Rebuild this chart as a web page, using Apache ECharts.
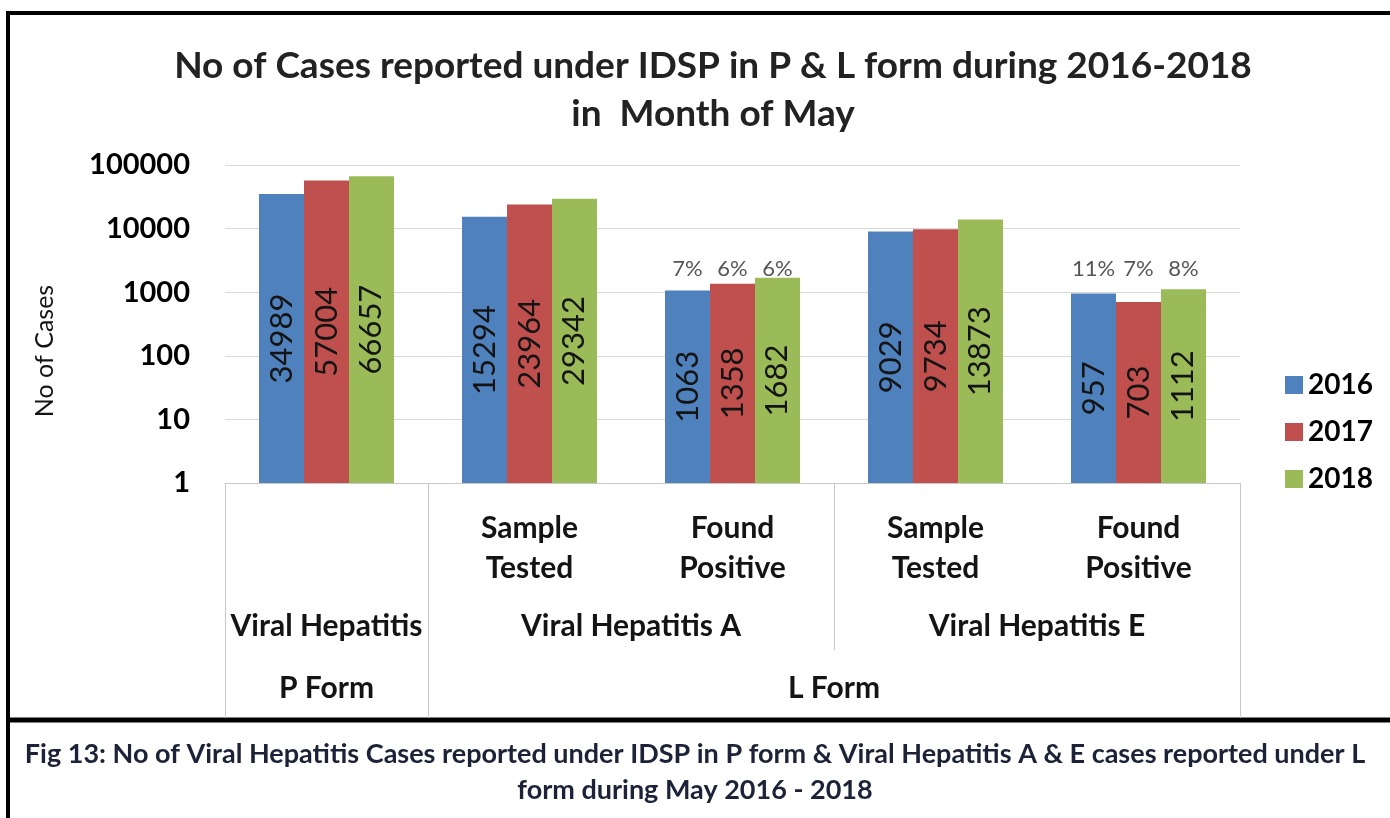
<!DOCTYPE html>
<html>
<head>
<meta charset="utf-8">
<title>Viral Hepatitis cases under IDSP, May 2016-2018</title>
<script src="https://cdn.jsdelivr.net/npm/echarts@6/dist/echarts.min.js"></script>
<style>
  html, body { margin: 0; padding: 0; background: #fff; }
  #chart { width: 1390px; height: 818px; }
</style>
</head>
<body>
<div id="chart"></div>
<script>
// Categories along the x axis (first label row)
const categories = ['Viral Hepatitis', 'VHA Sample Tested', 'VHA Found Positive', 'VHE Sample Tested', 'VHE Found Positive'];
const categoryLabels = ['', 'Sample\nTested', 'Found\nPositive', 'Sample\nTested', 'Found\nPositive'];
// Second and third label rows (disease, form)
const diseaseLabels = ['Viral Hepatitis', 'Viral Hepatitis A', 'Viral Hepatitis E'];
const formLabels = ['P Form', 'L Form'];
const years = ['2016', '2017', '2018'];

// Cases per year
const cases2016 = [34989, 15294, 1063, 9029, 957];
const cases2017 = [57004, 23964, 1358, 9734, 703];
const cases2018 = [66657, 29342, 1682, 13873, 1112];

// Log axis ticks
const yTicks = [1, 10, 100, 1000, 10000, 100000];

const COLORS = ['#4F81BD', '#C0504D', '#9BBB59'];
const FONT = 'Lato, "Open Sans", "DejaVu Sans", sans-serif';
const GRID = { left: 225, right: 150, top: 165, bottom: 335 };
// height of the positivity label row, in axis units
const PCT_ROW = 2300;
const BAR_STEP = 45;

const seriesValues = [cases2016, cases2017, cases2018];

// positivity rate = found positive / sample tested, shown above the "Found Positive" bars
function pctData(vals) {
  return categories.map((c, i) => {
    if (categoryLabels[i].indexOf('Found') === 0) {
      return { value: [i, PCT_ROW], pct: Math.round(vals[i] / vals[i - 1] * 100) + '%' };
    }
    return { value: [i, null] };
  });
}

const barSeries = years.map((y, k) => ({
  name: y,
  type: 'bar',
  xAxisIndex: 0,
  yAxisIndex: 0,
  barGap: '0%',
  barCategoryGap: '33.5%',
  itemStyle: { color: COLORS[k] },
  data: seriesValues[k],
  label: {
    show: true,
    position: 'inside',
    rotate: 90,
    fontFamily: FONT,
    fontSize: 31,
    color: '#141414',
    formatter: p => String(p.value)
  }
}));

const pctSeries = years.map((y, k) => ({
  name: 'pct' + y,
  type: 'scatter',
  xAxisIndex: 0,
  yAxisIndex: 0,
  symbolSize: 0,
  silent: true,
  data: pctData(seriesValues[k]),
  label: {
    show: true,
    position: 'inside',
    offset: [(k - 1) * BAR_STEP, 0],
    fontFamily: FONT,
    fontSize: 22,
    color: '#2a2a2a',
    formatter: p => p.data.pct || ''
  }
}));

const disPos = [0.5, 2, 4];
const formPos = [0.5, 3];
const LABEL_FONT = { fontFamily: FONT, fontWeight: 'bold', fontSize: 30, color: '#141414' };

const chart = echarts.init(document.getElementById('chart'));
chart.setOption({
  backgroundColor: '#fff',
  animation: false,
  title: {
    text: 'No of Cases reported under IDSP in P & L form during 2016-2018\nin  Month of May',
    left: 708,
    top: 37,
    textAlign: 'center',
    textStyle: { fontFamily: FONT, fontWeight: 'bold', fontSize: 37, lineHeight: 48, color: '#222' }
  },
  legend: {
    data: years,
    orient: 'vertical',
    left: 1280,
    top: 366,
    itemWidth: 18,
    itemHeight: 18,
    itemGap: 19,
    icon: 'rect',
    textStyle: { fontFamily: FONT, fontWeight: 'bold', fontSize: 28, color: '#000' }
  },
  grid: GRID,
  xAxis: [
    {
      type: 'category',
      data: categories,
      axisLine: { lineStyle: { color: '#c8c8c8' } },
      axisTick: { show: false },
      splitLine: { show: false },
      axisLabel: Object.assign({
        interval: 0,
        margin: 25,
        lineHeight: 40,
        formatter: (v, i) => categoryLabels[i]
      }, LABEL_FONT)
    },
    {
      // form row (P Form / L Form) with full-height dividers
      type: 'value', min: 0, max: 5, position: 'bottom',
      axisLine: { show: false },
      splitLine: { show: false },
      axisTick: { show: true, customValues: [0, 1, 5], length: 235, lineStyle: { color: '#c8c8c8' } },
      axisLabel: Object.assign({
        customValues: formPos,
        margin: 190,
        formatter: v => formLabels[formPos.indexOf(v)]
      }, LABEL_FONT)
    },
    {
      // disease row with the divider between A and E
      type: 'value', min: 0, max: 5, position: 'bottom',
      axisLine: { show: false },
      splitLine: { show: false },
      axisTick: { show: true, customValues: [3], length: 167, lineStyle: { color: '#c8c8c8' } },
      axisLabel: Object.assign({
        customValues: disPos,
        margin: 128,
        formatter: v => diseaseLabels[disPos.indexOf(v)]
      }, LABEL_FONT)
    }
  ],
  yAxis: {
    type: 'log',
    logBase: 10,
    min: yTicks[0],
    max: yTicks[yTicks.length - 1],
    name: 'No of Cases',
    nameLocation: 'middle',
    nameRotate: 90,
    nameGap: 168,
    nameTextStyle: { fontFamily: FONT, fontSize: 25, color: '#141414', padding: [0, 54, 0, 0] },
    axisLine: { show: false },
    axisTick: { show: false },
    splitLine: { lineStyle: { color: '#d9d9d9' } },
    axisLabel: {
      margin: 35,
      fontFamily: FONT,
      fontWeight: 'bold',
      fontSize: 29,
      color: '#000',
      formatter: v => String(Math.round(v))
    }
  },
  series: barSeries.concat(pctSeries),
  graphic: [
    { type: 'line', shape: { x1: 7, y1: 13, x2: 1390, y2: 13 }, style: { stroke: '#000', lineWidth: 4 } },
    { type: 'line', shape: { x1: 8, y1: 11, x2: 8, y2: 818 }, style: { stroke: '#000', lineWidth: 4 } },
    { type: 'line', shape: { x1: 6, y1: 720, x2: 1390, y2: 720 }, style: { stroke: '#000', lineWidth: 5 } },
    {
      type: 'text', left: 'center', top: 741,
      style: {
        text: 'Fig 13: No of Viral Hepatitis Cases reported under IDSP in P form & Viral Hepatitis A & E cases reported under L',
        font: 'bold 27px ' + FONT, fill: '#1c2238'
      }
    },
    {
      type: 'text', left: 'center', top: 777,
      style: { text: 'form during May 2016 - 2018', font: 'bold 27px ' + FONT, fill: '#1c2238' }
    }
  ]
});
</script>
</body>
</html>
